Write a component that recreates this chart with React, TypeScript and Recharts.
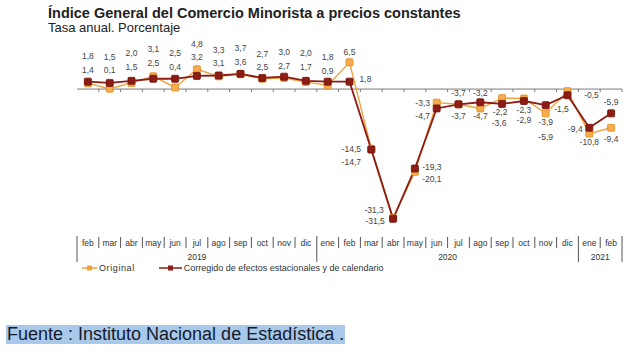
import React from 'react';
import {
  ComposedChart,
  Line,
  XAxis,
  YAxis,
  ReferenceLine,
  LabelList,
  Legend,
} from 'recharts';

// feb 2019 .. feb 2021
const months = [
  'feb', 'mar', 'abr', 'may', 'jun', 'jul', 'ago', 'sep', 'oct', 'nov', 'dic',
  'ene', 'feb', 'mar', 'abr', 'may', 'jun', 'jul', 'ago', 'sep', 'oct', 'nov', 'dic',
  'ene', 'feb',
];

const original = [
  1.4, 0.1, 1.5, 3.1, 0.4, 4.8, 3.1, 3.6, 2.5, 2.7, 1.7,
  0.9, 6.5, -14.5, -31.3, -20.1, -3.3, -3.7, -4.7, -2.2, -2.3, -5.9, -0.5,
  -10.8, -9.4,
];

const corregido = [
  1.8, 1.5, 2.0, 2.5, 2.5, 3.2, 3.3, 3.7, 2.7, 3.0, 2.0,
  1.8, 1.8, -14.7, -31.5, -19.3, -4.7, -3.7, -3.2, -3.6, -2.9, -3.9, -1.5,
  -9.4, -5.9,
];

const yearGroups = [
  { year: '2019', from: 0, to: 10 },
  { year: '2020', from: 11, to: 22 },
  { year: '2021', from: 23, to: 24 },
];

// where each value label sits relative to its marker [dx, dy]
const origLabelPos = [
  [0, -13], [0, -19], [0, -16], [0, -27], [0, -20], [0, -25], [0, -13], [0, -12],
  [0, -12], [0, -12], [0, -15], [0, -14], [0, -10], [-20, 0], [-19, -8], [17, 7],
  [-14, 0], [0, -11], [0, 8], [-2, 14], [0, 11], [0, 24], [24, 4], [0, 8], [0, 11],
];
const corrLabelPos = [
  [0, -26], [0, -26], [0, -28], [0, -16], [0, -26], [0, -19], [0, -25], [0, -26],
  [0, -24], [0, -25], [0, -28], [0, -25], [16, -3], [-20, 12], [-18, 2], [17, -2],
  [-14, 8], [0, 12], [0, -9], [-3, 19], [0, 19], [0, 17], [-6, 14], [-14, 1], [0, -11],
];

const ORANGE = '#f0a23e';
const RED = '#8c1c14';
const FONT = '"Liberation Sans", Arial, sans-serif';

const W = 640;
const H = 354;
const M = { top: 52, right: 18, bottom: 93, left: 77 };
const PLOT_W = W - M.left - M.right;
const BAND = PLOT_W / months.length;

const data = months.map((m, i) => ({
  month: m,
  original: original[i],
  corregido: corregido[i],
}));

const fmt = (v: number) => v.toFixed(1).replace('.', ',');

const makeLabel = (pos: number[][]) => (props: any) => {
  const { x, y, value, index } = props;
  const [dx, dy] = pos[index] || [0, -10];
  return (
    <text
      x={x + dx}
      y={y + dy}
      textAnchor="middle"
      dominantBaseline="central"
      fontSize={8.5}
      fontFamily={FONT}
      fill="#444"
    >
      {fmt(value)}
    </text>
  );
};

const makeDot = (fill: string, stroke: string) => (props: any) => {
  const { cx, cy, index } = props;
  return (
    <rect
      key={'d' + index}
      x={cx - 3.5}
      y={cy - 3.5}
      width={7}
      height={7}
      rx={1}
      fill={fill}
      stroke={stroke}
      strokeWidth={0.8}
    />
  );
};

const ZeroAxis = (props: any) => {
  const { x1, y1, x2 } = props;
  const step = (x2 - x1) / months.length;
  return (
    <g>
      <line x1={x1} y1={y1} x2={x2} y2={y1} stroke="#7a7a7a" strokeWidth={1} />
      {months.map((_, i) => (
        <line
          key={i}
          x1={x1 + step * (i + 1)}
          x2={x1 + step * (i + 1)}
          y1={y1}
          y2={y1 + 3}
          stroke="#7a7a7a"
        />
      ))}
    </g>
  );
};

const MonthTick = (props: any) => {
  const { x, y, index, payload } = props;
  const left = x - BAND / 2;
  const right = x + BAND / 2;
  const group = yearGroups.find((g) => g.from === index);
  const isStart = !!group;
  const isLast = index === months.length - 1;
  return (
    <g>
      <line
        x1={left}
        x2={left}
        y1={y + (isStart ? 11 : 12)}
        y2={y + (isStart ? 37 : 23)}
        stroke="#555"
        strokeWidth={1}
      />
      {isLast && (
        <line x1={right} x2={right} y1={y + 11} y2={y + 37} stroke="#555" strokeWidth={1} />
      )}
      <text
        x={x}
        y={y + 18}
        textAnchor="middle"
        dominantBaseline="central"
        fontSize={8.5}
        fontFamily={FONT}
        fill="#333"
      >
        {payload.value}
      </text>
      {group && (
        <text
          x={left + ((group.to - group.from + 1) * BAND) / 2}
          y={y + 32}
          textAnchor="middle"
          dominantBaseline="central"
          fontSize={8.5}
          fontFamily={FONT}
          fill="#333"
        >
          {group.year}
        </text>
      )}
    </g>
  );
};

const legendItems = [
  { name: 'Original', color: ORANGE, fill: ORANGE, width: 15, gap: 24, spacing: 0.6 },
  { name: 'Corregido de efectos estacionales y de calendario', color: RED, fill: RED, width: 23, gap: 0, spacing: 0 },
];

const renderLegend = () => (
  <div style={{ display: 'flex', alignItems: 'center', fontFamily: FONT, fontSize: 9, color: '#333' }}>
    {legendItems.map((it) => (
      <div key={it.name} style={{ display: 'flex', alignItems: 'center', marginRight: it.gap }}>
        <svg width={it.width} height={8} style={{ marginRight: 2 }}>
          <line x1={0} x2={it.width} y1={4} y2={4} stroke={it.color} strokeWidth={1.5} />
          <rect x={it.width / 2 - 2.5} y={1.5} width={5} height={5} fill={it.fill} />
        </svg>
        <span style={{ letterSpacing: it.spacing }}>{it.name}</span>
      </div>
    ))}
  </div>
);

export default function App() {
  return (
    <div
      style={{
        position: 'absolute',
        left: 0,
        top: 0,
        width: W,
        height: H,
        background: '#fff',
        overflow: 'hidden',
        fontFamily: FONT,
      }}
    >
      <div style={{ position: 'absolute', left: 48, top: 5, fontSize: 14.5, fontWeight: 700, color: '#222', whiteSpace: 'nowrap' }}>
        Índice General del Comercio Minorista a precios constantes
      </div>
      <div style={{ position: 'absolute', left: 48, top: 20, fontSize: 13, color: '#222', whiteSpace: 'nowrap' }}>
        Tasa anual. Porcentaje
      </div>

      <div style={{ position: 'absolute', left: 0, top: 0 }}>
        <ComposedChart width={W} height={H} data={data} margin={M}>
          <XAxis
            dataKey="month"
            type="category"
            allowDuplicatedCategory
            interval={0}
            axisLine={false}
            tickLine={false}
            tickSize={0}
            tickMargin={0}
            height={36}
            padding={{ left: BAND / 2, right: BAND / 2 }}
            tick={<MonthTick />}
          />
          <YAxis hide domain={[-33, 9]} type="number" />
          <ReferenceLine y={0} shape={ZeroAxis} />
          <Line
            dataKey="original"
            stroke={ORANGE}
            strokeWidth={1.4}
            dot={makeDot('#f5ac4c', '#e08a1c')}
            isAnimationActive={false}
          >
            <LabelList dataKey="original" content={makeLabel(origLabelPos)} />
          </Line>
          <Line
            dataKey="corregido"
            stroke={RED}
            strokeWidth={1.8}
            dot={makeDot(RED, '#6e120c')}
            isAnimationActive={false}
          >
            <LabelList dataKey="corregido" content={makeLabel(corrLabelPos)} />
          </Line>
          <Legend
            layout="horizontal"
            verticalAlign="middle"
            align="center"
            wrapperStyle={{ top: 263, left: 82, width: 400, height: 12 }}
            content={renderLegend}
          />
        </ComposedChart>
      </div>

      <div
        style={{
          position: 'absolute',
          left: 6,
          top: 325,
          height: 19,
          lineHeight: '19px',
          fontSize: 18,
          background: '#a8c9ea',
          color: '#141a2c',
          paddingLeft: 1,
          paddingRight: 1,
          whiteSpace: 'nowrap',
        }}
      >
        Fuente : Instituto Nacional de Estadística .
      </div>
    </div>
  );
}
